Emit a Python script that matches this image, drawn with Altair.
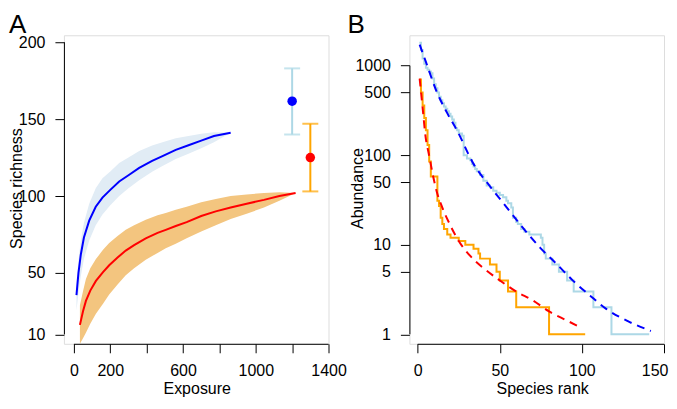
import altair as alt
import pandas as pd

# ---------------- Panel A: rarefaction ----------------
a_blue_exposure = [14, 25, 38, 55, 84, 120, 157, 200, 249, 300, 359, 430, 487, 560, 630, 700, 770, 862]
a_blue_richness = [35.5, 50, 62, 73, 84, 93, 99, 104, 109.5, 113.5, 118.3, 122.8, 126, 130, 133, 136, 139, 141.1]
a_blue_upper = [43.5, 58, 71, 82.5, 95, 105, 111.5, 116, 121.5, 125, 129.3, 132.8, 135, 137.5, 139, 140.5, 141.5, 141.1]
a_blue_lower = [25.5, 37, 48, 59, 71, 81, 88, 94, 100, 105, 110.3, 115.8, 119.5, 124, 127.5, 131, 135, 141.1]

a_orange_exposure = [33, 50, 66, 90, 121, 160, 194, 240, 285, 331, 395, 460, 505, 560, 620, 700, 780, 862, 950, 1045, 1130, 1219]
a_orange_richness = [16.2, 25, 31.8, 38.5, 44.8, 50.5, 55, 60, 64.5, 68, 72.5, 76, 78, 80.5, 83, 87, 90, 92.5, 95, 97.5, 100, 102]
a_orange_upper = [29, 38, 46, 53, 59, 65, 69.5, 74, 78, 81, 84.5, 87.5, 89, 91, 93, 96, 98, 100, 101, 102, 102.5, 102]
a_orange_lower = [4, 7.5, 11, 17, 23.5, 30, 36, 42.5, 48.5, 53, 58.5, 63, 66, 69, 72.5, 77, 81, 85, 88.5, 92.5, 97, 102]

a_est_exposure = [1200, 1300]
a_est_richness = [161.7, 125]
a_est_lower = [140, 103]
a_est_upper = [183, 147]
a_est_point_color = ["blue", "red"]
a_est_bar_color = ["lightblue", "orange"]

a_x_ticks = [0, 200, 400, 600, 800, 1000, 1200, 1400]
a_x_labelled = [0, 200, 600, 1000, 1400]
a_y_ticks = [10, 50, 100, 150, 200]

# ---------------- Panel B: rank abundance ----------------
b_blue_rank = [1, 2, 3, 4, 5, 6, 7, 8, 9, 10, 11, 12, 13, 14, 15, 16, 17, 18, 19, 20, 21, 22, 23, 24, 25,
               27, 28, 30, 32, 33, 34, 35, 36, 38, 40, 42, 44, 46, 48, 50, 52, 54, 55, 57, 58, 60, 61, 63,
               65, 68, 75, 76, 77, 78, 82, 86, 91, 95, 107, 118, 141]
b_blue_abund = [1800, 1500, 1200, 1050, 950, 900, 860, 820, 720, 620, 560, 500, 450, 410, 380, 350, 330, 310,
                290, 270, 250, 230, 200, 190, 175,
                165, 100, 92, 88, 80, 75, 70, 66, 60, 52, 46, 44, 40, 38, 36, 34, 31, 29, 26, 20, 18, 17, 15,
                14, 13, 12, 10, 8, 7, 6, 5, 4, 3, 2, 1, 1]

b_orange_rank = [1, 2, 3, 4, 5, 6, 7, 8, 12, 13, 14, 15, 16, 18, 20, 25, 29, 34, 37, 38, 44, 48, 50, 55, 60, 80, 102]
b_orange_abund = [700, 500, 360, 260, 190, 130, 85, 58, 31, 27, 20, 17, 15, 13, 12, 11, 10, 9, 8, 7, 6, 5, 4, 3, 2, 1, 1]

b_bluefit_rank = [1.2, 5, 11.8, 18, 23.9, 34, 44, 54.3, 64, 74.5, 85, 94.7, 105, 115, 128, 142]
b_bluefit_abund = [1718, 1100, 500, 295, 190, 80, 45, 26, 15.5, 9.3, 6, 3.95, 2.7, 1.91, 1.4, 1.09]

b_redfit_rank = [1.2, 3, 4.9, 6.7, 9.7, 11.8, 15, 19.5, 25, 32, 40, 50, 60, 70, 80, 90, 99]
b_redfit_abund = [718, 340, 156, 105, 55, 38, 26, 17, 11, 7.5, 5.5, 4, 3, 2.4, 1.8, 1.45, 1.2]

b_x_ticks = [0, 50, 100, 150]
b_y_ticks = [1, 5, 10, 50, 100, 500, 1000]

# ---------------- layout / style ----------------
FONT = "Liberation Sans"
W_A, W_B, H = 265, 255, 309

common = dict(domain=False, grid=False, ticks=True, tickSize=9, tickColor="black", tickWidth=1,
              labelColor="black", labelFont=FONT, labelFontSize=16, labelOverlap=False,
              titleFont=FONT, titleFontSize=16, titleFontWeight="normal", titleColor="black")

xA = alt.Scale(domain=[-55, 1400], nice=False, zero=False)
yA = alt.Scale(domain=[3.9, 204.55], nice=False, zero=False)
labelled = ",".join(str(v) for v in a_x_labelled)
axA_x = alt.Axis(values=a_x_ticks, title="Exposure", labelPadding=10, format="d", labelFlush=False,
                 labelExpr="indexof([" + labelled + "], datum.value) >= 0 ? datum.label : ''",
                 titleX=133, titleY=50, titleBaseline="alphabetic", titleAlign="center", **common)
axA_y = alt.Axis(values=a_y_ticks, title="Species richness", labelPadding=10, format="d", labelFlush=False,
                 titleX=-42, titleY=153, titleAngle=270, titleBaseline="alphabetic", titleAlign="center", **common)


def XA(f):
    return alt.X(f, type="quantitative", scale=xA, axis=axA_x)


def YA(f):
    return alt.Y(f, type="quantitative", scale=yA, axis=axA_y)


blue_df = pd.DataFrame({"exposure": a_blue_exposure, "rich": a_blue_richness, "lo": a_blue_lower, "hi": a_blue_upper})
orange_df = pd.DataFrame({"exposure": a_orange_exposure, "rich": a_orange_richness, "lo": a_orange_lower, "hi": a_orange_upper})
est_df = pd.DataFrame({"exposure": a_est_exposure, "rich": a_est_richness, "lo": a_est_lower, "hi": a_est_upper,
                       "pc": a_est_point_color, "bc": a_est_bar_color})

bandA1 = alt.Chart(blue_df).mark_area(color="#e1ecf5", opacity=1).encode(x=XA("exposure"), y=YA("lo"), y2="hi")
bandA2 = alt.Chart(orange_df).mark_area(color="#f3c57f", opacity=1).encode(x=XA("exposure"), y=YA("lo"), y2="hi")
lineA1 = alt.Chart(blue_df).mark_line(color="blue", strokeWidth=2).encode(x=XA("exposure"), y=YA("rich"))
lineA2 = alt.Chart(orange_df).mark_line(color="red", strokeWidth=2).encode(x=XA("exposure"), y=YA("rich"))
errA = alt.Chart(est_df).mark_rule(strokeWidth=2).encode(x=XA("exposure"), y=YA("lo"), y2="hi",
                                                          color=alt.Color("bc:N", scale=None))
capA1 = alt.Chart(est_df).mark_tick(orient="horizontal", size=16, thickness=2).encode(
    x=XA("exposure"), y=YA("lo"), color=alt.Color("bc:N", scale=None))
capA2 = alt.Chart(est_df).mark_tick(orient="horizontal", size=16, thickness=2).encode(
    x=XA("exposure"), y=YA("hi"), color=alt.Color("bc:N", scale=None))
ptA = alt.Chart(est_df).mark_circle(size=90, opacity=1).encode(x=XA("exposure"), y=YA("rich"),
                                                                color=alt.Color("pc:N", scale=None))
yA_line = alt.Chart(pd.DataFrame({"a": [min(a_y_ticks)], "b": [max(a_y_ticks)]})).mark_rule(
    color="black", strokeWidth=1).encode(x=alt.value(0.5), y=YA("a"), y2="b")
xA_line = alt.Chart(pd.DataFrame({"a": [min(a_x_ticks)], "b": [max(a_x_ticks)]})).mark_rule(
    color="black", strokeWidth=1).encode(x=XA("a"), x2="b", y=alt.value(H + 0.5))
labA = alt.Chart(pd.DataFrame({"t": ["A"]})).mark_text(
    font=FONT, fontSize=26, align="left", baseline="alphabetic", color="black").encode(
    text="t:N", x=alt.value(-55), y=alt.value(-2))

panelA = alt.layer(bandA1, bandA2, lineA1, lineA2, errA, capA1, capA2, ptA, yA_line, xA_line, labA).properties(
    width=W_A, height=H)

# ---------------- Panel B ----------------
xB = alt.Scale(domain=[-5.05, 150], nice=False, zero=False)
yB = alt.Scale(type="log", domain=[0.7836, 2185], nice=False)
axB_x = alt.Axis(values=b_x_ticks, title="Species rank", labelPadding=10, format="d",
                 labelFlush=True, labelFlushOffset=4,
                 titleX=133, titleY=50, titleBaseline="alphabetic", titleAlign="center", **common)
axB_y = alt.Axis(values=b_y_ticks, title="Abundance", labelPadding=10, format="d", labelFlush=False,
                 titleX=-47, titleY=153, titleAngle=270, titleBaseline="alphabetic", titleAlign="center", **common)


def XB(f):
    return alt.X(f, type="quantitative", scale=xB, axis=axB_x)


def YB(f):
    return alt.Y(f, type="quantitative", scale=yB, axis=axB_y)


stepB1 = alt.Chart(pd.DataFrame({"r": b_blue_rank, "a": b_blue_abund})).mark_line(
    color="lightblue", strokeWidth=2, interpolate="step-after").encode(x=XB("r"), y=YB("a"))
stepB2 = alt.Chart(pd.DataFrame({"r": b_orange_rank, "a": b_orange_abund})).mark_line(
    color="orange", strokeWidth=2, interpolate="step-after").encode(x=XB("r"), y=YB("a"))
fitB1 = alt.Chart(pd.DataFrame({"r": b_bluefit_rank, "a": b_bluefit_abund})).mark_line(
    color="blue", strokeWidth=2, strokeDash=[8, 6], interpolate="monotone").encode(x=XB("r"), y=YB("a"))
fitB2 = alt.Chart(pd.DataFrame({"r": b_redfit_rank, "a": b_redfit_abund})).mark_line(
    color="red", strokeWidth=2, strokeDash=[8, 6], interpolate="monotone").encode(x=XB("r"), y=YB("a"))
yB_line = alt.Chart(pd.DataFrame({"a": [min(b_y_ticks)], "b": [max(b_y_ticks)]})).mark_rule(
    color="black", strokeWidth=1).encode(x=alt.value(0.5), y=YB("a"), y2="b")
xB_line = alt.Chart(pd.DataFrame({"a": [min(b_x_ticks)], "b": [max(b_x_ticks)]})).mark_rule(
    color="black", strokeWidth=1).encode(x=XB("a"), x2="b", y=alt.value(H + 0.5))
labB = alt.Chart(pd.DataFrame({"t": ["B"]})).mark_text(
    font=FONT, fontSize=26, align="left", baseline="alphabetic", color="black").encode(
    text="t:N", x=alt.value(-62), y=alt.value(-2))

panelB = alt.layer(stepB1, stepB2, fitB1, fitB2, yB_line, xB_line, labB).properties(width=W_B, height=H)

chart = alt.hconcat(panelA, panelB, spacing=81, bounds="flush",
                    padding={"left": 0, "top": 3, "right": 0, "bottom": 0}).configure_view(
    stroke=None).configure(background="white")

chart.save("out.html", embed_options={"renderer": "svg", "actions": False})
